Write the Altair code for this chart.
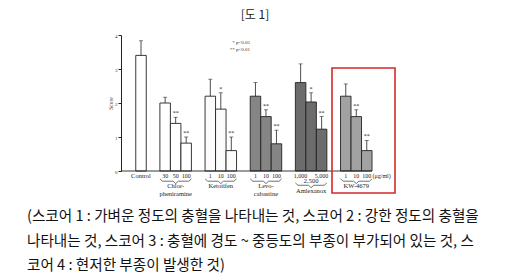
import altair as alt
import pandas as pd

# ---------------- data ----------------
groups = ["Control", "Chlor-pheniramine", "Ketotifen", "Levo-cabastine", "Amlexanox", "KW-4679"]
group_lines = [["Control"], ["Chlor-", "pheniramine"], ["Ketotifen"], ["Levo-", "cabastine"], ["Amlexanox"], ["KW-4679"]]
doses = [[""], ["30", "50", "100"], ["1", "10", "100"], ["1", "10", "100"], ["1,000", "", "5,000"], ["1", "10", "100"]]
means = [[3.4], [2.0, 1.4, 0.82], [2.2, 1.82, 0.6], [2.2, 1.6, 0.8], [2.6, 2.03, 1.23], [2.2, 1.6, 0.6]]
sems = [[0.43], [0.17, 0.18, 0.18], [0.5, 0.48, 0.4], [0.4, 0.2, 0.4], [0.55, 0.27, 0.37], [0.36, 0.2, 0.3]]
stars = [[""], ["", "**", "**"], ["", "*", "**"], ["", "**", "**"], ["", "*", "**"], ["", "**", "**"]]
fills = ["#ffffff", "#ffffff", "#fbfbfb", "#858585", "#6c6c6c", "#a2a2a2"]
amlex_mid = "2,500"
unit_label = "(μg/ml)"
title_text = "[도 1]"
caption = [
    "(스코어 1 : 가벼운 정도의 충혈을 나타내는 것, 스코어 2 : 강한 정도의 충혈을",
    "나타내는 것, 스코어 3 : 충혈에 경도 ~ 중등도의 부종이 부가되어 있는 것, 스",
    "코어 4 : 현저한 부종이 발생한 것)",
]
legend_lines = ["* p<0.05", "** p<0.01"]

# ---------------- layout helpers ----------------
def group_start(g):
    return 0.0 if g == 0 else 2.3 + 4.3 * (g - 1)

rows = []
for g, name in enumerate(groups):
    for b in range(len(means[g])):
        pos = group_start(g) + b
        rows.append(dict(group=name, pos=pos, x0=pos - 0.5, x1=pos + 0.5,
                         mean=means[g][b], top=means[g][b] + sems[g][b],
                         dose=doses[g][b], star=stars[g][b], fill=fills[g], dy=-0.15))
bars = pd.DataFrame(rows)

lab = []
for g, name in enumerate(groups):
    n = len(means[g])
    c = group_start(g) + (n - 1) / 2
    ly = [-0.44, -0.67] if len(group_lines[g]) == 2 else [-0.44]
    if g == 0:
        ly = [-0.15]
    if name == "Amlexanox":
        ly = [-0.58]
    for t, yy in zip(group_lines[g], ly):
        lab.append(dict(x=c, y=yy, t=t))
lab.append(dict(x=group_start(4) + 1, y=-0.30, t=amlex_mid))
lab_unit = dict(x=group_start(5) + 2.55, y=-0.15, t=unit_label)
labels = pd.DataFrame(lab)

br = []
for g in range(1, len(groups)):
    L = group_start(g) - 0.5
    R = group_start(g) + 2.5
    M = (L + R) / 2
    y0 = -0.30 if groups[g] != "Amlexanox" else -0.42
    pts = [(L, y0 + 0.07), (L + 0.25, y0), (M - 0.25, y0), (M, y0 - 0.07),
           (M + 0.25, y0), (R - 0.25, y0), (R, y0 + 0.07)]
    for i, (px, py) in enumerate(pts):
        br.append(dict(group=groups[g], i=i, x=px, y=py))
braces = pd.DataFrame(br)

serif = "Liberation Serif"
xs = alt.Scale(domain=[-1.905, 24.76], nice=False, zero=False)
ys = alt.Scale(domain=[0, 4], nice=False)
yaxis = alt.Axis(values=[0, 1, 2, 3, 4], title="Score", tickSize=3, labelFontSize=5,
                 titleFontSize=5.5, titleFontWeight="normal", labelPadding=1,
                 titlePadding=1, domainColor="#222", tickColor="#222",
                 labelColor="#333", titleColor="#333", grid=False,
                 labelFont=serif, titleFont=serif)
X = lambda f: alt.X(f, type="quantitative", scale=xs, axis=None)
Y = lambda f: alt.Y(f, type="quantitative", scale=ys, axis=yaxis)

base = alt.Chart(bars)

bar_layer = base.mark_rect(stroke="#222", strokeWidth=0.9).encode(
    x=X("x0"), x2="x1:Q", y=Y("mean"), y2=alt.datum(0),
    fill=alt.Fill("fill:N", scale=None),
)
err_line = base.mark_rule(color="#222", strokeWidth=0.8).encode(
    x=X("pos"), y=Y("mean"), y2="top:Q")
err_cap = base.mark_tick(color="#222", orient="horizontal", size=4, thickness=0.8).encode(
    x=X("pos"), y=Y("top"))
star_layer = base.mark_text(fontSize=6, dy=-4, font=serif, color="#222").encode(
    x=X("pos"), y=Y("top"), text="star:N")
dose_layer = base.mark_text(fontSize=6, font=serif, color="#222").encode(
    x=X("pos"), y=Y("dy"), text="dose:N")

baseline = alt.Chart(pd.DataFrame({"a": [-1.905], "b": [group_start(5) + 2.5], "z": [0.0]})).mark_rule(
    color="#222", strokeWidth=0.9).encode(x=X("a"), x2="b:Q", y=Y("z"))

label_layer = alt.Chart(labels).mark_text(fontSize=6.5, font=serif, color="#222").encode(
    x=X("x"), y=Y("y"), text="t:N")
unit_layer = alt.Chart(pd.DataFrame([lab_unit])).mark_text(
    fontSize=6, font=serif, color="#222", align="left").encode(
    x=X("x"), y=Y("y"), text="t:N")
brace_layer = alt.Chart(braces).mark_line(color="#333", strokeWidth=0.7).encode(
    x=X("x"), y=Y("y"), detail="group:N", order="i:Q")
box = alt.Chart(pd.DataFrame({"a": [18.19], "b": [24.19], "c": [3.03], "d": [-0.647]})).mark_rect(
    fill=None, stroke="#d42a2a", strokeWidth=1.6).encode(x=X("a"), x2="b:Q", y=Y("c"), y2="d:Q")

def fixed_text(t, x, y, **kw):
    return alt.Chart(pd.DataFrame({"t": [t]})).mark_text(**kw).encode(
        x=alt.value(x), y=alt.value(y), text="t:N")

legend = [fixed_text(t, 129, 7 + 7 * k, fontSize=5, font=serif, color="#333", align="right")
          for k, t in enumerate(legend_lines)]
title = fixed_text(title_text, 134, -20, fontSize=12, font="Noto Sans CJK KR", color="#222")
cap = [fixed_text(t, -94, 182 + 24.5 * k, fontSize=14.6, font="Noto Sans CJK KR", color="#111",
                  align="left") for k, t in enumerate(caption)]

chart = alt.layer(bar_layer, baseline, err_line, err_cap, star_layer, dose_layer, label_layer,
                  unit_layer, brace_layer, box, *legend, title, *cap).properties(
    width=280, height=136, autosize=alt.AutoSizeParams(type="none"),
    padding={"left": 121, "top": 35, "right": 104, "bottom": 106},
    background="white",
).configure_view(stroke=None)

chart.save("out.html", embed_options={"renderer": "svg", "actions": False})
